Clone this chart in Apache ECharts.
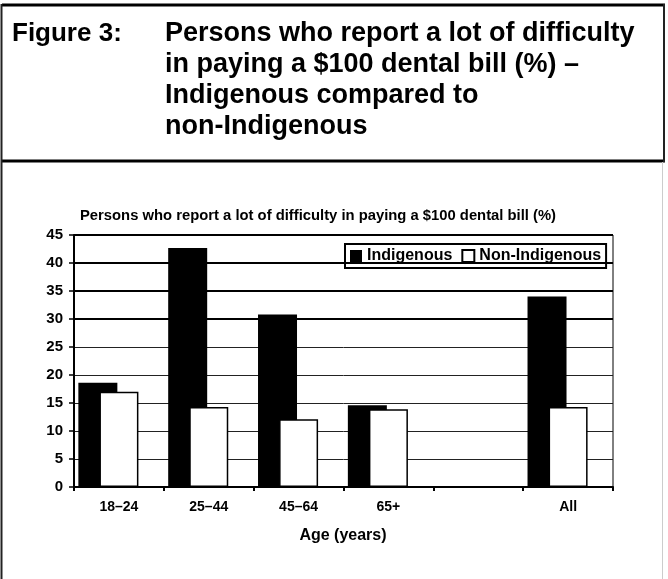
<!DOCTYPE html>
<html>
<head>
<meta charset="utf-8">
<script src="https://cdn.jsdelivr.net/npm/echarts@6/dist/echarts.min.js"></script>
<style>
  html, body { margin: 0; padding: 0; background: #fff; }
  #chart { width: 668px; height: 579px; }
</style>
</head>
<body>
<div id="chart"></div>
<script>
// Age groups (the empty slot leaves a gap before the "All" column)
const categories = ['18–24', '25–44', '45–64', '65+', '', 'All'];
const indigenous = [18.6, 42.7, 30.8, 14.6, null, 34.0];
const nonIndigenous = [17.0, 14.3, 12.1, 13.9, null, 14.3];
const yTicks = { min: 0, max: 45, interval: 5 };
const heavyGridValues = [30, 35, 40, 45];

const figureLabel = 'Figure 3:';
const figureTitle = 'Persons who report a lot of difficulty\nin paying a $100 dental bill (%) –\nIndigenous compared to\nnon-Indigenous';
const chartTitle = 'Persons who report a lot of difficulty in paying a $100 dental bill (%)';
const xAxisTitle = 'Age (years)';

const FONT = '"Liberation Sans", Arial, sans-serif';

const chart = echarts.init(document.getElementById('chart'), null, { renderer: 'canvas' });

chart.setOption({
  backgroundColor: '#fff',
  animation: false,
  textStyle: { fontFamily: FONT },
  title: [
    {
      text: figureLabel, left: 12, top: 18, padding: 0,
      textStyle: { fontFamily: FONT, fontSize: 26, fontWeight: 'bold', color: '#000', lineHeight: 31 }
    },
    {
      text: figureTitle, left: 165, top: 18, padding: 0,
      textStyle: { fontFamily: FONT, fontSize: 27, fontWeight: 'bold', color: '#000', lineHeight: 31 }
    },
    {
      text: chartTitle, left: 80, top: 208, padding: 0,
      textStyle: { fontFamily: FONT, fontSize: 14.8, fontWeight: 'bold', color: '#000' }
    }
  ],
  graphic: [
    // frame around the figure heading and the chart panel
    { type: 'line', shape: { x1: 2, y1: 5, x2: 665, y2: 5 }, style: { stroke: '#000', lineWidth: 3 } },
    { type: 'line', shape: { x1: 2, y1: 161, x2: 665, y2: 161 }, style: { stroke: '#000', lineWidth: 3 } },
    { type: 'line', shape: { x1: 1.5, y1: 4, x2: 1.5, y2: 579 }, style: { stroke: '#222', lineWidth: 2 } },
    { type: 'line', shape: { x1: 664, y1: 4, x2: 664, y2: 162 }, style: { stroke: '#222', lineWidth: 2 } },
    { type: 'line', shape: { x1: 662.5, y1: 162, x2: 662.5, y2: 579 }, style: { stroke: '#ccc', lineWidth: 1 } },
    {
      type: 'text', x: 343, y: 536,
      style: {
        text: xAxisTitle, align: 'center', verticalAlign: 'middle',
        font: 'bold 16px "Liberation Sans", Arial, sans-serif', fill: '#000'
      }
    }
  ],
  legend: {
    data: ['Indigenous', 'Non-Indigenous'],
    left: 345, top: 244,
    orient: 'horizontal',
    icon: 'rect',
    itemWidth: 12, itemHeight: 12, itemGap: 9,
    padding: [4, 5, 4, 5],
    backgroundColor: '#fff',
    borderColor: '#000', borderWidth: 2,
    textStyle: { fontFamily: FONT, fontSize: 16, fontWeight: 'bold', color: '#000' }
  },
  grid: {
    left: 74, right: 55, top: 235, bottom: 92,
    show: true, borderColor: '#000', borderWidth: 1, backgroundColor: 'transparent'
  },
  xAxis: {
    type: 'category',
    data: categories,
    axisLine: { lineStyle: { color: '#000', width: 2 } },
    axisTick: { show: true, length: 4, lineStyle: { color: '#000', width: 2 } },
    axisLabel: { fontFamily: FONT, fontSize: 14, fontWeight: 'bold', color: '#000', margin: 13 }
  },
  yAxis: {
    type: 'value',
    min: yTicks.min, max: yTicks.max, interval: yTicks.interval,
    axisLine: { show: true, lineStyle: { color: '#000', width: 2 } },
    axisTick: { show: true, length: 5, lineStyle: { color: '#000', width: 1.5 } },
    axisLabel: { fontFamily: FONT, fontSize: 15, fontWeight: 'bold', color: '#000', margin: 11 },
    splitLine: { show: true, lineStyle: { color: '#222', width: 1 } }
  },
  series: [
    {
      name: 'Indigenous', type: 'bar', data: indigenous,
      barWidth: 39, barGap: '-46%',
      itemStyle: { color: '#000' }, z: 3
    },
    {
      name: 'Non-Indigenous', type: 'bar', data: nonIndigenous,
      barWidth: 39, barGap: '-46%',
      itemStyle: { color: '#fff', borderColor: '#000', borderWidth: 1.5 }, z: 4
    },
    {
      // empty slot that keeps each pair sitting left of the category centre,
      // and carries the heavier upper gridlines
      name: 'spacer', type: 'bar', data: categories.map(() => null),
      barWidth: 39, barGap: '-46%', z: 1, silent: true,
      markLine: {
        silent: true, symbol: 'none', label: { show: false },
        lineStyle: { color: '#000', width: 2, type: 'solid' },
        data: heavyGridValues.map(v => ({ yAxis: v }))
      }
    }
  ]
});
</script>
</body>
</html>
